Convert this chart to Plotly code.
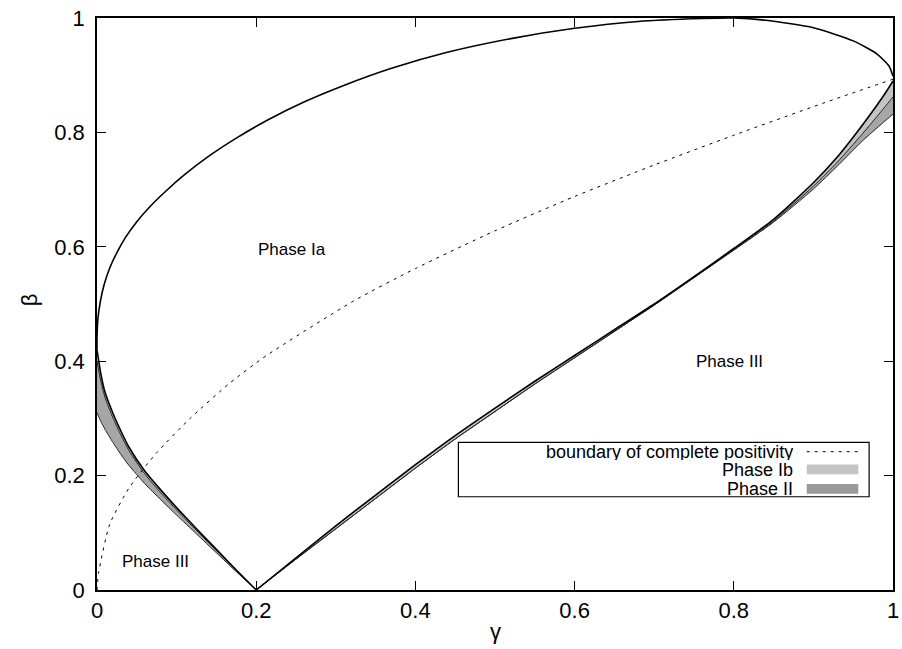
import plotly.graph_objects as go

# ---------------- data ----------------
# outer upper arc of the phase boundary
arc_x = [0.0, 0.0, 0.001, 0.004, 0.009, 0.016, 0.025, 0.036, 0.05, 0.067, 0.087, 0.11, 0.14, 0.175, 0.215, 0.26, 0.31, 0.37, 0.44, 0.52, 0.6, 0.68, 0.76, 0.8, 0.84, 0.9, 0.95, 0.98, 0.995, 1.0]
arc_y = [0.42, 0.44, 0.472, 0.503, 0.534, 0.563, 0.59, 0.617, 0.644, 0.671, 0.698, 0.726, 0.758, 0.79, 0.822, 0.853, 0.882, 0.912, 0.94, 0.964, 0.982, 0.994, 0.999, 1.0, 0.996, 0.983, 0.96, 0.937, 0.916, 0.898]

# left lower band (three boundary curves)
lb_x = [0.0, 0.005, 0.01, 0.02, 0.03, 0.04, 0.06, 0.08, 0.1, 0.125, 0.15, 0.175, 0.2]
lb_outer = [0.42, 0.377, 0.346, 0.309, 0.278, 0.25, 0.208, 0.175, 0.144, 0.107, 0.071, 0.035, 0.0]
lb_mid = [0.40, 0.364, 0.337, 0.301, 0.271, 0.244, 0.203, 0.170, 0.140, 0.104, 0.069, 0.034, 0.0]
lb_lower = [0.31, 0.294, 0.281, 0.258, 0.237, 0.218, 0.186, 0.158, 0.131, 0.098, 0.065, 0.032, 0.0]

# right lower band (three boundary curves)
rb_x = [0.2, 0.25, 0.3, 0.35, 0.4, 0.45, 0.5, 0.55, 0.6, 0.65, 0.7, 0.75, 0.8, 0.85, 0.9, 0.93, 0.96, 0.98, 0.99, 1.0]
rb_upper = [0.0, 0.056, 0.112, 0.166, 0.219, 0.27, 0.318, 0.365, 0.41, 0.455, 0.5, 0.548, 0.597, 0.648, 0.712, 0.757, 0.81, 0.848, 0.868, 0.89]
rb_mid = [0.0, 0.054, 0.107, 0.16, 0.213, 0.264, 0.312, 0.36, 0.406, 0.452, 0.498, 0.546, 0.595, 0.645, 0.706, 0.748, 0.795, 0.828, 0.845, 0.862]
rb_lower = [0.0, 0.054, 0.107, 0.16, 0.213, 0.264, 0.312, 0.36, 0.406, 0.452, 0.498, 0.546, 0.594, 0.643, 0.701, 0.741, 0.783, 0.808, 0.82, 0.832]

# boundary of complete positivity (dotted)
cp_x = [0.0, 0.002, 0.016, 0.041, 0.075, 0.117, 0.167, 0.213, 0.322, 0.4, 0.5, 0.6, 0.7, 0.8, 0.912, 1.0]
cp_y = [0.0, 0.03, 0.115, 0.18, 0.24, 0.3, 0.362, 0.41, 0.505, 0.562, 0.628, 0.688, 0.743, 0.795, 0.851, 0.893]

# region labels
region_text = ["Phase Ia", "Phase III", "Phase III"]
region_x = [0.245, 0.794, 0.073]
region_y = [0.595, 0.4, 0.05]

tick_vals = [0, 0.2, 0.4, 0.6, 0.8, 1]
tick_text = ["0", "0.2", "0.4", "0.6", "0.8", "1"]

legend_names = ["boundary of complete positivity", "Phase Ib", "Phase II"]

# ---------------- styling ----------------
FONT = "Liberation Sans, Arial, Helvetica, sans-serif"
C_IB = "#c4c4c4"
C_II = "#a6a6a6"

fig = go.Figure()


def band(x, top, bottom, color):
    xs = list(x) + list(x)[::-1]
    ys = list(top) + list(bottom)[::-1]
    fig.add_trace(go.Scatter(x=xs, y=ys, mode="lines", fill="toself",
                             fillcolor=color, line=dict(width=0, color=color),
                             hoverinfo="skip", showlegend=False))


# filled phases
band(lb_x, lb_outer, lb_mid, C_IB)
band(lb_x, lb_mid, lb_lower, C_II)
band(rb_x, rb_upper, rb_mid, C_IB)
band(rb_x, rb_mid, rb_lower, C_II)

# thin inner curves
for x, y in [(lb_x, lb_mid), (lb_x, lb_lower), (rb_x, rb_mid), (rb_x, rb_lower)]:
    fig.add_trace(go.Scatter(x=x, y=y, mode="lines",
                             line=dict(color="#222222", width=1, shape="spline", smoothing=0.6),
                             hoverinfo="skip", showlegend=False))

# outer boundary curves
for x, y in [(arc_x, arc_y), (lb_x, lb_outer), (rb_x, rb_upper)]:
    fig.add_trace(go.Scatter(x=x, y=y, mode="lines",
                             line=dict(color="black", width=1.6, shape="spline", smoothing=0.6),
                             hoverinfo="skip", showlegend=False))

# complete positivity boundary
fig.add_trace(go.Scatter(x=cp_x, y=cp_y, mode="lines",
                         line=dict(color="black", width=1, dash="3px,5px", shape="spline", smoothing=0.6),
                         hoverinfo="skip", showlegend=False))

# region labels
for t, x, y in zip(region_text, region_x, region_y):
    fig.add_annotation(x=x, y=y, xref="x", yref="y", text=t, showarrow=False,
                       font=dict(family=FONT, size=17, color="black"))

# ---------------- manual gnuplot-like key ----------------
box = dict(x0=0.454, x1=0.970, y0=0.163, y1=0.258)
fig.add_shape(type="rect", xref="paper", yref="paper", **box,
              line=dict(color="black", width=1.2), fillcolor="white", layer="above")
row_y = [0.2418, 0.211, 0.1766]
text_right = 0.877
samp_x0, samp_x1 = 0.8916, 0.9564
for name, ry in zip(legend_names, row_y):
    fig.add_annotation(x=text_right, y=ry, xref="paper", yref="paper", text=name,
                       showarrow=False, xanchor="right", yanchor="middle", height=17,
                       font=dict(family=FONT, size=18, color="black"))
fig.add_shape(type="line", xref="paper", yref="paper", x0=samp_x0, x1=samp_x1,
              y0=row_y[0], y1=row_y[0], line=dict(color="black", width=1, dash="3px,5px"),
              layer="above")
fig.add_shape(type="rect", xref="paper", yref="paper", x0=samp_x0, x1=samp_x1,
              y0=row_y[1] - 0.0085, y1=row_y[1] + 0.0085, line=dict(width=0),
              fillcolor=C_IB, layer="above")
fig.add_shape(type="rect", xref="paper", yref="paper", x0=samp_x0, x1=samp_x1,
              y0=row_y[2] - 0.0085, y1=row_y[2] + 0.0085, line=dict(width=0),
              fillcolor="#9a9a9a", layer="above")

# axis titles
fig.add_annotation(x=0.5, y=-0.073, xref="paper", yref="paper", text="γ", showarrow=False,
                   yanchor="middle", font=dict(family=FONT, size=22, color="black"))
fig.add_annotation(x=-0.084, y=0.507, xref="paper", yref="paper", text="β", showarrow=False,
                   textangle=-90, xanchor="center", yanchor="middle",
                   font=dict(family=FONT, size=22, color="black"))

axis_common = dict(range=[0, 1], tickvals=tick_vals, ticktext=tick_text,
                   ticks="inside", ticklen=9, tickwidth=1, tickcolor="black",
                   showline=True, linecolor="black", linewidth=1.5, mirror="allticks",
                   showgrid=False, zeroline=False, automargin=False,
                   ticklabeloverflow="allow",
                   tickfont=dict(family=FONT, size=22, color="black"))

fig.update_layout(
    template="none",
    width=902, height=649,
    margin=dict(l=97, r=9, t=18, b=59, pad=0),
    paper_bgcolor="white", plot_bgcolor="white",
    showlegend=False,
    xaxis=dict(**axis_common),
    yaxis=dict(**axis_common, ticklabelstandoff=6),
)

# remove the default 8px page margin so the figure fills the window exactly
fig.write_html("out.html", config={"displayModeBar": False},
               post_script="document.body.style.margin='0';")
